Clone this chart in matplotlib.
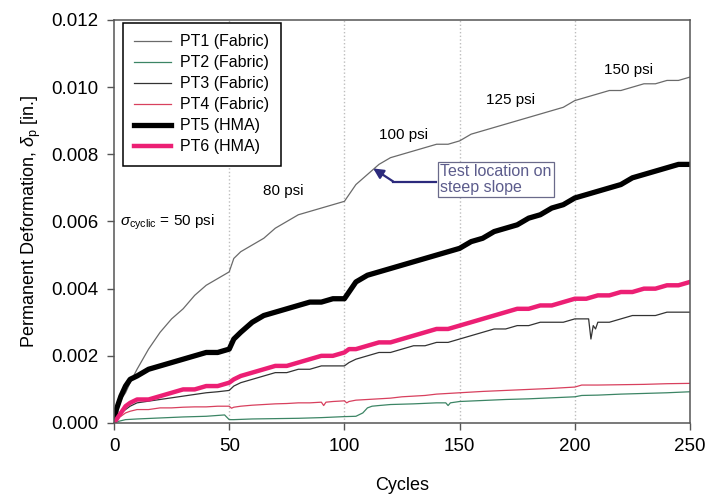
import matplotlib
matplotlib.use('Agg')
import matplotlib.pyplot as plt

plt.rcParams['font.family'] = ['Liberation Sans', 'DejaVu Sans']
plt.rcParams['mathtext.fontset'] = 'custom'
plt.rcParams['mathtext.rm'] = 'Liberation Sans'
plt.rcParams['mathtext.it'] = 'Liberation Sans:italic'

# cycle grid shared by PT1, PT5, PT6
cycles = [0, 1, 2, 3, 5, 7, 10, 15, 20, 25, 30, 35, 40, 45, 50, 52, 55, 60, 65, 70,
          75, 80, 85, 90, 95, 100, 102, 105, 110, 115, 120, 125, 130, 135, 140, 145,
          150, 155, 160, 165, 170, 175, 180, 185, 190, 195, 200, 205, 210, 215, 220,
          225, 230, 235, 240, 245, 250]

pt1 = [0, 0.0003, 0.0005, 0.0007, 0.0009, 0.0012, 0.0016, 0.0022, 0.0027, 0.0031,
       0.0034, 0.0038, 0.0041, 0.0043, 0.0045, 0.0049, 0.0051, 0.0053, 0.0055, 0.0058,
       0.0060, 0.0062, 0.0063, 0.0064, 0.0065, 0.0066, 0.0068, 0.0071, 0.0074, 0.0077,
       0.0079, 0.0080, 0.0081, 0.0082, 0.0083, 0.0083, 0.0084, 0.0086, 0.0087, 0.0088,
       0.0089, 0.0090, 0.0091, 0.0092, 0.0093, 0.0094, 0.0096, 0.0097, 0.0098, 0.0099,
       0.0099, 0.0100, 0.0101, 0.0101, 0.0102, 0.0102, 0.0103]

pt5 = [0, 0.0004, 0.0006, 0.0008, 0.0011, 0.0013, 0.0014, 0.0016, 0.0017, 0.0018,
       0.0019, 0.0020, 0.0021, 0.0021, 0.0022, 0.0025, 0.0027, 0.0030, 0.0032, 0.0033,
       0.0034, 0.0035, 0.0036, 0.0036, 0.0037, 0.0037, 0.0039, 0.0042, 0.0044, 0.0045,
       0.0046, 0.0047, 0.0048, 0.0049, 0.0050, 0.0051, 0.0052, 0.0054, 0.0055, 0.0057,
       0.0058, 0.0059, 0.0061, 0.0062, 0.0064, 0.0065, 0.0067, 0.0068, 0.0069, 0.0070,
       0.0071, 0.0073, 0.0074, 0.0075, 0.0076, 0.0077, 0.0077]

pt6 = [0, 0.0001, 0.0002, 0.0003, 0.0005, 0.0006, 0.0007, 0.0007, 0.0008, 0.0009,
       0.0010, 0.0010, 0.0011, 0.0011, 0.0012, 0.0013, 0.0014, 0.0015, 0.0016, 0.0017,
       0.0017, 0.0018, 0.0019, 0.0020, 0.0020, 0.0021, 0.0022, 0.0022, 0.0023, 0.0024,
       0.0024, 0.0025, 0.0026, 0.0027, 0.0028, 0.0028, 0.0029, 0.0030, 0.0031, 0.0032,
       0.0033, 0.0034, 0.0034, 0.0035, 0.0035, 0.0036, 0.0037, 0.0037, 0.0038, 0.0038,
       0.0039, 0.0039, 0.0040, 0.0040, 0.0041, 0.0041, 0.0042]

# PT2 (Fabric)
cycles_pt2 = [0, 2, 5, 10, 20, 30, 40, 48, 50, 52, 60, 70, 80, 90, 100, 105, 108, 110,
              112, 115, 120, 130, 140, 144, 145, 146, 150, 160, 170, 180, 190, 200, 203,
              210, 220, 230, 240, 250]
pt2 = [0, 0.00005, 0.0001, 0.00012, 0.00015, 0.00018, 0.0002, 0.00024, 0.0001, 0.0001,
       0.00012, 0.00013, 0.00014, 0.00016, 0.00019, 0.0002, 0.0003, 0.00045, 0.0005,
       0.00052, 0.00055, 0.00057, 0.0006, 0.0006, 0.00052, 0.0006, 0.00064, 0.00067,
       0.0007, 0.00072, 0.00075, 0.00078, 0.00082, 0.00083, 0.00086, 0.00088, 0.0009,
       0.00093]

# PT3 (Fabric), with the sensor glitch near cycle 207
cycles_pt3 = [0, 1, 2, 3, 5, 7, 10, 15, 20, 25, 30, 35, 40, 45, 50, 52, 55, 60, 65, 70,
              75, 80, 85, 90, 95, 100, 102, 105, 110, 115, 120, 125, 130, 135, 140, 145,
              150, 155, 160, 165, 170, 175, 180, 185, 190, 195, 200, 205, 206, 207, 208,
              209, 210, 215, 220, 225, 230, 235, 240, 245, 250]
pt3 = [0, 0.0001, 0.0002, 0.0003, 0.0004, 0.0005, 0.0006, 0.00065, 0.0007, 0.00075,
       0.0008, 0.00085, 0.0009, 0.00093, 0.00097, 0.0011, 0.0012, 0.0013, 0.0014, 0.0015,
       0.0015, 0.0016, 0.0016, 0.0017, 0.0017, 0.0017, 0.0018, 0.0019, 0.0020, 0.0021,
       0.0021, 0.0022, 0.0023, 0.0023, 0.0024, 0.0024, 0.0025, 0.0026, 0.0027, 0.0028,
       0.0028, 0.0029, 0.0029, 0.0030, 0.0030, 0.0030, 0.0031, 0.0031, 0.0031, 0.0025,
       0.0029, 0.0028, 0.0030, 0.0030, 0.0031, 0.0032, 0.0032, 0.0032, 0.0033, 0.0033,
       0.0033]

# PT4 (Fabric)
cycles_pt4 = [0, 1, 2, 3, 5, 7, 10, 15, 20, 25, 30, 35, 40, 45, 50, 51, 52, 55, 60, 65,
              70, 75, 80, 85, 90, 91, 92, 95, 100, 101, 102, 105, 110, 115, 120, 125, 130,
              135, 140, 145, 150, 160, 170, 180, 190, 200, 203, 210, 220, 230, 240, 250]
pt4 = [0, 0.0001, 0.0002, 0.0002, 0.0003, 0.00035, 0.0004, 0.0004, 0.00045, 0.00045,
       0.00047, 0.00048, 0.00048, 0.0005, 0.0005, 0.00044, 0.00047, 0.0005, 0.00053,
       0.00055, 0.00057, 0.00058, 0.0006, 0.0006, 0.00062, 0.00052, 0.00062, 0.00064,
       0.00066, 0.0006, 0.00064, 0.00068, 0.0007, 0.00072, 0.00074, 0.00078, 0.0008,
       0.00082, 0.00086, 0.00088, 0.0009, 0.00094, 0.00097, 0.001, 0.00103, 0.00107,
       0.00113, 0.00113, 0.00114, 0.00115, 0.00117, 0.00118]

x_ticks = [0, 50, 100, 150, 200, 250]
y_ticks = [0.000, 0.002, 0.004, 0.006, 0.008, 0.010, 0.012]
load_lines = [50, 100, 150, 200]

fig = plt.figure(figsize=(7.09, 4.97), dpi=100)
ax = fig.add_axes([0.1608, 0.1489, 0.8124, 0.8109])

for c in load_lines:
    ax.axvline(c, color='#bdbdbd', linestyle=':', linewidth=1.0, zorder=0)

ax.plot(cycles, pt1, color='#6a6a6a', linewidth=0.9, label='PT1 (Fabric)')
ax.plot(cycles_pt2, pt2, color='#3c8565', linewidth=0.9, label='PT2 (Fabric)')
ax.plot(cycles_pt3, pt3, color='#333333', linewidth=0.9, label='PT3 (Fabric)')
ax.plot(cycles_pt4, pt4, color='#d8405e', linewidth=0.9, label='PT4 (Fabric)')
ax.plot(cycles, pt5, color='black', linewidth=3.8, label='PT5 (HMA)')
ax.plot(cycles, pt6, color='#ec1f74', linewidth=3.2, label='PT6 (HMA)')

ax.set_xlim(0, 250)
ax.set_ylim(0, 0.012)
ax.set_xticks(x_ticks)
ax.set_yticks(y_ticks)
ax.set_yticklabels([f'{v:.3f}' for v in y_ticks])
ax.tick_params(axis='both', direction='out', length=5, width=1, color='#555555',
               labelsize=13.5, pad=6)
for s in ax.spines.values():
    s.set_color('#555555')
    s.set_linewidth(1.1)

ax.set_xlabel('Cycles', fontsize=13, labelpad=16)
ax.set_ylabel(r'Permanent Deformation, $\delta_{\rm p}$ [in.]', fontsize=13, labelpad=6)

leg = ax.legend(loc='upper left', bbox_to_anchor=(0.0156, 0.9926), borderaxespad=0,
                fontsize=11.5, handlelength=2.3, handletextpad=0.6, labelspacing=0.38,
                fancybox=False, framealpha=1, edgecolor='black', borderpad=0.7)
leg.get_frame().set_linewidth(1.1)

# stress level labels
ax.text(2.5, 0.00596, r'$\sigma_{\rm cyclic}$ = 50 psi', fontsize=11, va='center', ha='left')
ax.text(73.5, 0.00692, '80 psi', fontsize=11, va='center', ha='center')
ax.text(125.5, 0.00858, '100 psi', fontsize=11, va='center', ha='center')
ax.text(172, 0.00962, '125 psi', fontsize=11, va='center', ha='center')
ax.text(223.5, 0.01051, '150 psi', fontsize=11, va='center', ha='center')

# callout box with elbow arrow
ax.text(141.5, 0.00725, 'Test location on\nsteep slope', fontsize=11.5, color='#5c5c8c',
        va='center', ha='left', linespacing=1.05,
        bbox=dict(boxstyle='square,pad=0.15', facecolor='white', edgecolor='#6a6a8a',
                  linewidth=0.9))
ax.plot([121.2, 139.8], [0.00719, 0.00719], color='#2c2a7c', linewidth=1.6)
ax.annotate('', xy=(112.5, 0.00758), xytext=(121.2, 0.00719),
            arrowprops=dict(arrowstyle='-|>,head_length=0.6,head_width=0.3',
                            color='#2c2a7c', linewidth=1.6, shrinkA=0, shrinkB=0))

fig.savefig('out.png', dpi=100, facecolor='white')
